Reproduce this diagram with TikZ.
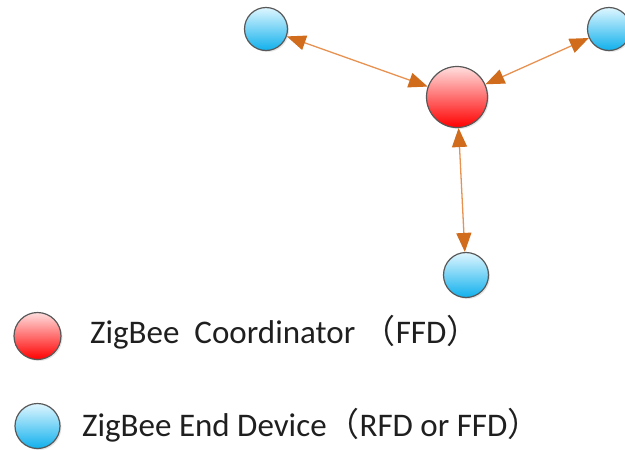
\documentclass[tikz,border=0pt]{standalone}
\usepackage{fontspec}
\setmainfont{Carlito}
\newfontfamily\cjk{Noto Sans CJK SC}
\usetikzlibrary{arrows.meta, shadows}
\definecolor{linkline}{RGB}{232,146,82}
\definecolor{linkhead}{RGB}{208,108,28}
\definecolor{rimgray}{RGB}{88,88,88}
\definecolor{redtop}{RGB}{255,222,222}
\definecolor{redbot}{RGB}{255,0,0}
\definecolor{bluetop}{RGB}{222,246,255}
\definecolor{bluebot}{RGB}{16,176,236}
\newcommand\legendfont{\fontsize{33}{39}\selectfont}

\begin{document}
\begin{tikzpicture}[x=1pt, y=-1pt,
    node/.style={draw=rimgray, line width=1.2pt, shape=circle, inner sep=0pt,
        drop shadow={opacity=0.2, shadow xshift=1.5pt, shadow yshift=-1.5pt}},
    coord/.style={node, top color=redtop, bottom color=redbot},
    enddev/.style={node, top color=bluetop, bottom color=bluebot},
    link/.style={draw=linkline, line width=1.3pt,
        {Triangle[length=19pt, width=15pt, color=linkhead]}-{Triangle[length=19pt, width=15pt, color=linkhead]}}]
    \useasboundingbox (0,0) rectangle (625,450);
    \node(C)[coord, minimum size=61pt] at (457,97) {};
    \node(E1)[enddev, minimum size=43pt] at (266,29) {};
    \node(E2)[enddev, minimum size=43pt] at (609,29) {};
    \node(E3)[enddev, minimum size=45pt] at (466,275) {};
    \draw[link] (E1) -- (C);
    \draw[link] (E2) -- (C);
    \draw[link] (C) -- (E3);
    % legend
    \node(kc)[coord, minimum size=47pt] at (37.5,336) {};
    \node(ke)[enddev, minimum size=45pt] at (37.5,426) {};
    \node(tc)[anchor=base west, inner sep=0pt, text=black!88] at (90,343)
        {\legendfont ZigBee\ \ Coordinator {\cjk （}FFD{\cjk ）}};
    \node(te)[anchor=base west, inner sep=0pt, text=black!88] at (82,436)
        {\legendfont ZigBee End Device{\cjk （}RFD or FFD{\cjk ）}};
\end{tikzpicture}
\end{document}
